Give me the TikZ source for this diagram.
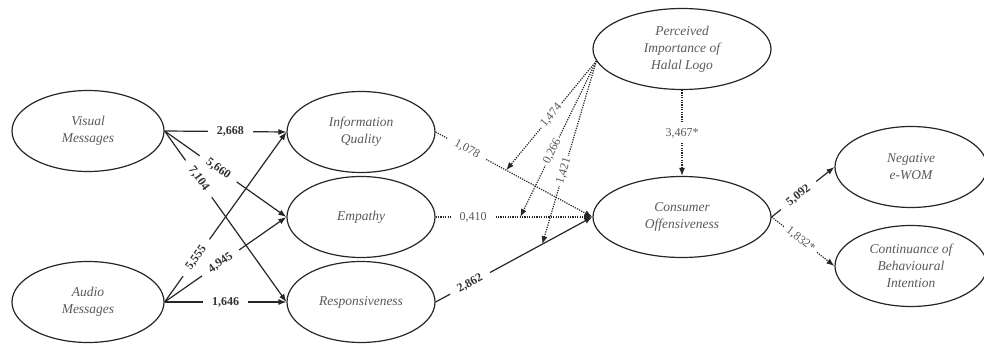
\documentclass[tikz,border=0pt]{standalone}
\usepackage{fontspec}
\setmainfont{Liberation Serif}
\usetikzlibrary{shapes.geometric,arrows.meta}

\tikzset{
  construct/.style={ellipse,draw=black!85,line width=1.2pt,minimum width=152pt,minimum height=81pt,
    inner sep=0pt,align=center,text=black!65,font=\fontsize{13.5}{17}\selectfont\itshape},
  solidarr/.style={line width=1.2pt,draw=black!85,-{Latex[length=8pt,width=6pt]}},
  dotarr/.style={line width=1.2pt,draw=black!85,dash pattern=on 1.2pt off 1.2pt,-{Latex[length=8pt,width=6pt]}},
  est/.style={fill=white,inner xsep=9pt,inner ysep=1pt,text=black!80,font=\fontsize{12}{14}\selectfont\bfseries},
  estn/.style={fill=white,inner xsep=8pt,inner ysep=1pt,text=black!65,font=\fontsize{12}{14}\selectfont},
  estm/.style={estn,inner xsep=2pt},
}

\begin{document}
\begin{tikzpicture}[x=1pt,y=-1pt]

\useasboundingbox (0,0) rectangle (984,347);

%sizes
\def\wl{152}
\def\wm{148}
\def\wr{178}
%nodes
\node[construct,minimum width=\wl pt] (VM)  at (88,131)  {Visual\\Messages};
\node[construct,minimum width=\wl pt] (AM)  at (88,302)  {Audio\\Messages};
\node[construct,minimum width=\wm pt] (IQ)  at (361,132) {Information\\Quality};
\node[construct,minimum width=\wm pt] (EM)  at (361,217) {Empathy};
\node[construct,minimum width=\wm pt] (RE)  at (361,302) {Responsiveness};
\node[construct,minimum width=\wr pt] (PIH) at (682,49)  {Perceived\\Importance of\\Halal Logo};
\node[construct,minimum width=\wr pt] (CO)  at (682,217) {Consumer\\Offensiveness};
\node[construct,minimum width=\wl pt] (NW)  at (911,167) {Negative\\e-WOM};
\node[construct,minimum width=\wl pt] (CB)  at (911,266) {Continuance of\\Behavioural\\Intention};

%draw arrows: messages
\draw[solidarr] (VM.east) -- node[est,pos=0.54]{2,668} (IQ.west);
\draw[solidarr] (VM.east) -- node[est,sloped,pos=0.44]{5,660} (EM.west);
\draw[solidarr] (VM.east) -- node[est,sloped,pos=0.28]{7,104} (RE.west);
\draw[solidarr] (AM.east) -- node[est,sloped,pos=0.26]{5,555} (IQ.west);
\draw[solidarr] (AM.east) -- node[est,sloped,pos=0.46]{4,945} (EM.west);
\draw[solidarr] (AM.east) -- node[est,pos=0.5]{1,646} (RE.west);

%draw arrows: into consumer offensiveness
\draw[dotarr]   (IQ.east) -- node[estn,sloped,pos=0.2]{1,078} coordinate[pos=0.45] (m1) (CO.west);
\draw[dotarr]   (EM.east) -- node[estn,pos=0.24]{0,410} coordinate[pos=0.54] (m2) (CO.west);
\draw[solidarr] (RE.east) -- node[est,sloped,pos=0.22]{2,862} coordinate[pos=0.68] (m3) (CO.west);

%moderation
\draw[dotarr] (PIH.188) -- node[estm,sloped,pos=0.5]{1,474} (m1);
\draw[dotarr] (PIH.188) -- node[estm,sloped,pos=0.58]{0,266} (m2);
\draw[dotarr] (PIH.188) -- node[estm,sloped,pos=0.6]{1,421} (m3);
\draw[dotarr] (PIH.south) -- node[estm,inner ysep=4pt]{3,467*} (CO.north);

%outcomes
\draw[solidarr] (CO.east) -- node[est,sloped,pos=0.43]{5,092} (NW.west);
\draw[dotarr]   (CO.east) -- node[estm,inner xsep=4pt,sloped,pos=0.46]{1,832*} (CB.west);

\end{tikzpicture}
\end{document}
